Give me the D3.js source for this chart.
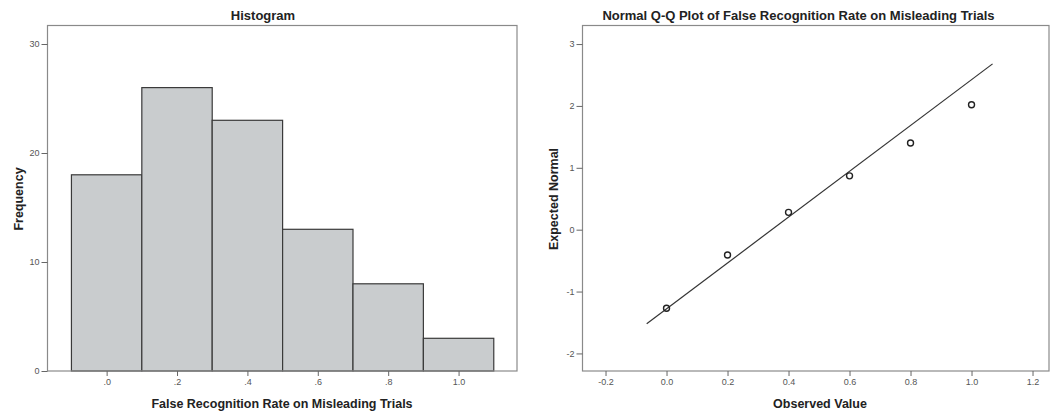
<!DOCTYPE html>
<html>
<head>
<meta charset="utf-8">
<script src="https://cdn.jsdelivr.net/npm/d3@7"></script>
<style>
  html, body { margin: 0; padding: 0; background: #fff; }
  svg { display: block; font-family: "Liberation Sans", Arial, sans-serif; }
  .tick text { fill: #555; font-size: 9px; }
  .title { font-weight: bold; font-size: 13px; fill: #222; }
  .axtitle { font-weight: bold; font-size: 12.5px; fill: #222; }
</style>
</head>
<body>
<svg id="chart" width="1051" height="414"></svg>
<script>
// Histogram: bin centres and frequencies
const binCenters = [0.0, 0.2, 0.4, 0.6, 0.8, 1.0];
const binWidth = 0.2;
const frequencies = [18, 26, 23, 13, 8, 3];
const histXTicks = [0.0, 0.2, 0.4, 0.6, 0.8, 1.0];
const histXTickLabels = [".0", ".2", ".4", ".6", ".8", "1.0"];
const histYTicks = [0, 10, 20, 30];

// Normal Q-Q plot: observed values vs expected normal scores
const qqObserved = [0.0, 0.2, 0.4, 0.6, 0.8, 1.0];
const qqExpected = [-1.27, -0.41, 0.28, 0.87, 1.40, 2.02];
const refLineX = [-0.065, 1.069];
const refLineY = [-1.52, 2.68];
const qqXTicks = [-0.2, 0.0, 0.2, 0.4, 0.6, 0.8, 1.0, 1.2];
const qqYTicks = [-2, -1, 0, 1, 2, 3];

const svg = d3.select("#chart");
const frameColor = "#8a8a8a";
// plain hyphen for negative numbers
const hyphen = f => d => f(d).replace("\u2212", "-");

function frame(g, x0, x1, y0, y1) {
  g.append("rect")
    .attr("x", x0).attr("y", y0)
    .attr("width", x1 - x0).attr("height", y1 - y0)
    .attr("fill", "none").attr("stroke", frameColor).attr("stroke-width", 1.2);
}

function styleAxis(g) {
  g.select(".domain").remove();
  g.selectAll(".tick line").attr("stroke", "#666");
}

// ---------- Histogram ----------
{
  const L = 47.5, R = 517, T = 25.5, B = 371;
  const x = d3.scaleLinear().domain([-0.168, 1.166]).range([L, R]);
  const y = d3.scaleLinear().domain([0, 30]).range([B, 44]);
  const g = svg.append("g");

  g.selectAll("rect.bar")
    .data(frequencies)
    .join("rect")
    .attr("class", "bar")
    .attr("x", (d, i) => x(binCenters[i] - binWidth / 2))
    .attr("width", (d, i) => x(binCenters[i] + binWidth / 2) - x(binCenters[i] - binWidth / 2))
    .attr("y", d => y(d))
    .attr("height", d => y(0) - y(d))
    .attr("fill", "#c9ccce")
    .attr("stroke", "#3a3a3a")
    .attr("stroke-width", 1.2);

  frame(g, L, R, T, B);

  const yAx = g.append("g").attr("transform", `translate(${L},0)`)
    .call(d3.axisLeft(y).tickValues(histYTicks).tickSize(6).tickPadding(2).tickFormat(d3.format("d")));
  styleAxis(yAx);

  const xAx = g.append("g").attr("transform", `translate(0,${B})`)
    .call(d3.axisBottom(x).tickValues(histXTicks).tickSize(5).tickPadding(3)
      .tickFormat((d, i) => histXTickLabels[i]));
  styleAxis(xAx);

  g.append("text").attr("class", "title")
    .attr("x", 263).attr("y", 19.5).attr("text-anchor", "middle").text("Histogram");
  g.append("text").attr("class", "axtitle")
    .attr("x", 282).attr("y", 408).attr("text-anchor", "middle")
    .text("False Recognition Rate on Misleading Trials");
  g.append("text").attr("class", "axtitle")
    .attr("transform", "translate(23,199) rotate(-90)")
    .attr("text-anchor", "middle").text("Frequency");
}

// ---------- Normal Q-Q plot ----------
{
  const L = 582.5, R = 1049, T = 25.5, B = 371;
  const x = d3.scaleLinear().domain([-0.2755, 1.254]).range([L, R]);
  const y = d3.scaleLinear().domain([-2.284, 3.30]).range([B, T]);
  const g = svg.append("g");

  frame(g, L, R, T, B);

  const yAx = g.append("g").attr("transform", `translate(${L},0)`)
    .call(d3.axisLeft(y).tickValues(qqYTicks).tickSize(6).tickPadding(2).tickFormat(hyphen(d3.format("d"))));
  styleAxis(yAx);

  const xAx = g.append("g").attr("transform", `translate(0,${B})`)
    .call(d3.axisBottom(x).tickValues(qqXTicks).tickSize(5).tickPadding(3).tickFormat(hyphen(d3.format(".1f"))));
  styleAxis(xAx);

  g.append("line")
    .attr("x1", x(refLineX[0])).attr("y1", y(refLineY[0]))
    .attr("x2", x(refLineX[1])).attr("y2", y(refLineY[1]))
    .attr("stroke", "#333").attr("stroke-width", 1.2);

  g.selectAll("circle.pt")
    .data(qqObserved)
    .join("circle")
    .attr("class", "pt")
    .attr("cx", d => x(d))
    .attr("cy", (d, i) => y(qqExpected[i]))
    .attr("r", 3)
    .attr("fill", "none")
    .attr("stroke", "#222")
    .attr("stroke-width", 1.4);

  g.append("text").attr("class", "title")
    .attr("x", 798.5).attr("y", 19.5).attr("text-anchor", "middle")
    .text("Normal Q-Q Plot of False Recognition Rate on Misleading Trials");
  g.append("text").attr("class", "axtitle")
    .attr("x", 820).attr("y", 408).attr("text-anchor", "middle").text("Observed Value");
  g.append("text").attr("class", "axtitle")
    .attr("transform", "translate(558,199) rotate(-90)")
    .attr("text-anchor", "middle").text("Expected Normal");
}
</script>
</body>
</html>
